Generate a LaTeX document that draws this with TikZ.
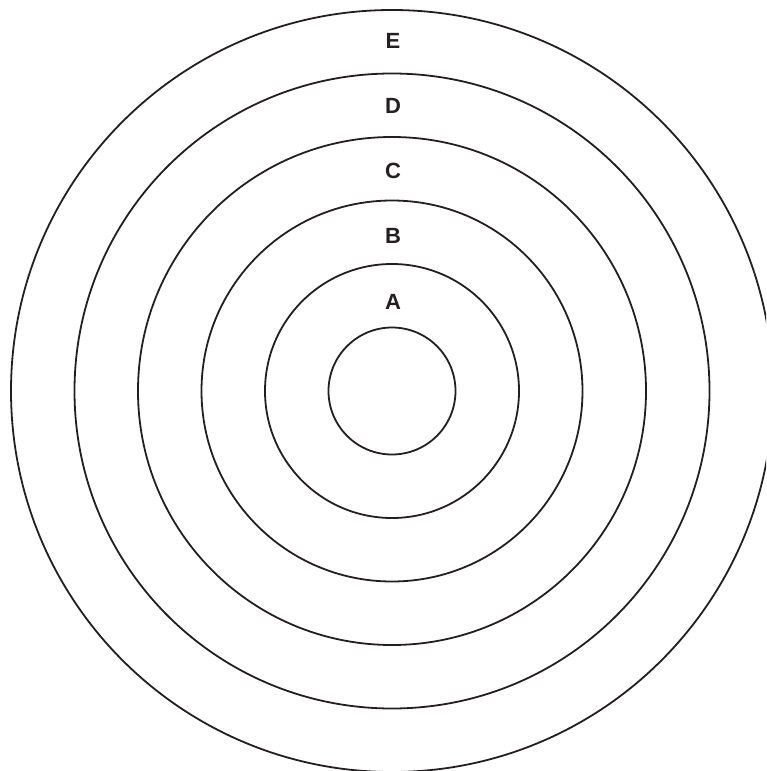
\documentclass[tikz,border=0pt]{standalone}
\usepackage{fontspec}
\setmainfont{Liberation Sans}
\usepackage{tikz}
\usetikzlibrary{positioning}
\definecolor{inkgray}{HTML}{231F20}

\begin{document}
\begin{tikzpicture}[x=1pt, y=-1pt,
  every node/.style={font=\fontsize{22}{26}\selectfont\bfseries, text=inkgray},
  ring/.style={draw=inkgray, line width=1.8pt},
  zone/.style={inner sep=0pt, anchor=center}
]
\useasboundingbox (0,0) rectangle (766,771);
\clip (0,0) rectangle (766,771);
\coordinate (ctr) at (392,391);
\draw[ring] (ctr) circle[radius=63.5];
\draw[ring] (ctr) circle[radius=127];
\draw[ring] (ctr) circle[radius=190.5];
\draw[ring] (ctr) circle[radius=254];
\draw[ring] (ctr) circle[radius=317.5];
\draw[ring] (ctr) circle[radius=381];
\node[zone] (zA) at (393,302) {A};
\node[zone] (zB) at (393,236) {B};
\node[zone] (zC) at (393,171) {C};
\node[zone] (zD) at (393,106) {D};
\node[zone] (zE) at (393,41) {E};
\end{tikzpicture}
\end{document}
